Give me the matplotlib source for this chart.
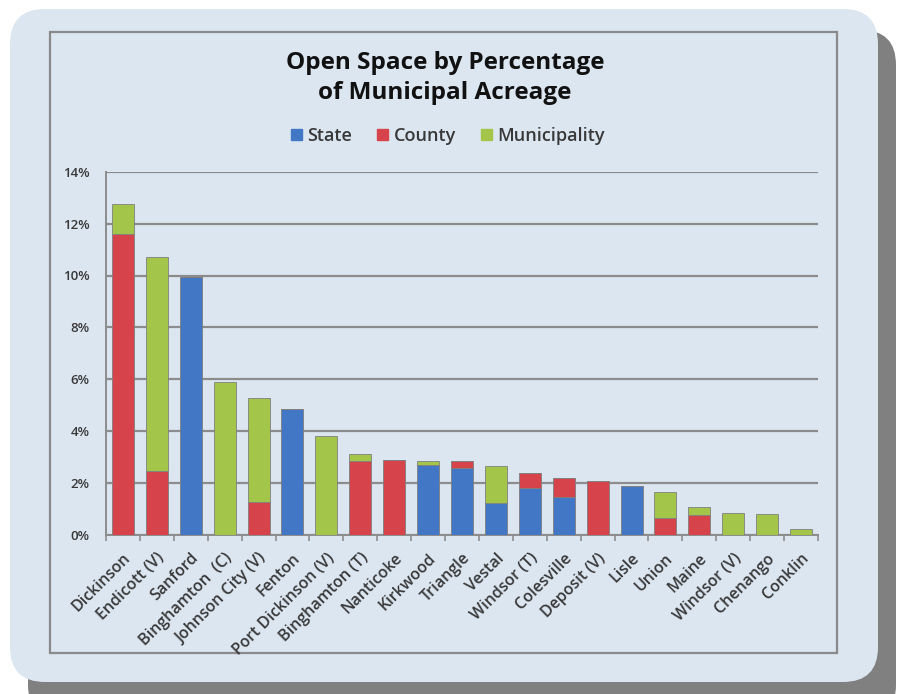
import numpy as np
import matplotlib.pyplot as plt
from matplotlib.patches import FancyBboxPatch, Rectangle, Patch

# values in percent of municipal acreage
towns = ["Dickinson", "Endicott (V)", "Sanford", "Binghamton  (C)", "Johnson City (V)",
         "Fenton", "Port Dickinson (V)", "Binghamton (T)", "Nanticoke", "Kirkwood",
         "Triangle", "Vestal", "Windsor (T)", "Colesville", "Deposit (V)", "Lisle",
         "Union", "Maine", "Windsor (V)", "Chenango", "Conklin"]
state = [0, 0, 9.93, 0, 0, 4.84, 0, 0, 0, 2.70, 2.60, 1.24, 1.83, 1.46, 0, 1.87,
         0, 0, 0, 0, 0]
county = [11.6, 2.48, 0, 0, 1.26, 0, 0, 2.85, 2.88, 0, 0.26, 0, 0.54, 0.72, 2.08, 0,
          0.65, 0.76, 0, 0, 0]
municipality = [1.15, 8.24, 0, 5.91, 4.02, 0, 3.81, 0.27, 0, 0.16, 0, 1.43, 0, 0, 0, 0,
                1.02, 0.32, 0.83, 0.79, 0.23]

plt.rcParams['font.family'] = ['Open Sans', 'DejaVu Sans']
txt = '#383838'
blue, red, green = '#4277c6', '#d7434a', '#a3c54a'
panel = '#dce6f1'

W, H = 901, 694
fig = plt.figure(figsize=(W / 100, H / 100), dpi=100, facecolor='white')

# background: shadow, rounded panel, chart frame (pixel coords)
bg = fig.add_axes([0, 0, 1, 1])
bg.set_xlim(0, W)
bg.set_ylim(H, 0)
bg.axis('off')
bg.add_patch(FancyBboxPatch((28, 30), 868, 690, boxstyle="round,pad=0,rounding_size=35",
                            fc='#808080', ec='none'))
bg.add_patch(FancyBboxPatch((10, 9), 868, 673, boxstyle="round,pad=0,rounding_size=35",
                            fc=panel, ec='none'))
bg.add_patch(Rectangle((50, 32), 787, 621, fc='none', ec='#8a8a8a', lw=1.6))

ax = fig.add_axes([106 / W, 1 - 535 / H, (818 - 106) / W, (535 - 171.7) / H])
ax.set_facecolor('none')

x = np.arange(len(towns))
s = np.array(state)
c = np.array(county)
m = np.array(municipality)
kw = dict(width=0.65, edgecolor='#7f7f7f', linewidth=0.6, zorder=3)
ax.bar(x, s, color=blue, **kw)
ax.bar(x, c, bottom=s, color=red, **kw)
ax.bar(x, m, bottom=s + c, color=green, **kw)

ax.set_xlim(-0.5, len(towns) - 0.5)
ax.set_ylim(0, 14)
ax.set_yticks(np.arange(0, 15, 2))
ax.set_yticklabels([f"{v}%" for v in range(0, 15, 2)], color=txt, fontsize=9.5,
                   fontweight='semibold')
ax.yaxis.grid(True, color='#8c8c8c', lw=1.6, zorder=0)
ax.set_axisbelow(True)
for sp in ['top', 'right']:
    ax.spines[sp].set_visible(False)
for sp in ['left', 'bottom']:
    ax.spines[sp].set_color('#8c8c8c')
    ax.spines[sp].set_linewidth(1.4)
ax.tick_params(axis='y', length=0, pad=12)
ax.set_xticks(x)
ax.set_xticklabels(towns, rotation=45, ha='right', rotation_mode='anchor',
                   color=txt, fontsize=11.5, fontweight='semibold')
ax.tick_params(axis='x', length=0, pad=11)
ax.set_xticks(np.arange(-0.5, len(towns)), minor=True)
ax.tick_params(axis='x', which='minor', length=4, color='#8c8c8c', width=1.2)

fig.text(445 / W, 1 - 78 / H, "Open Space by Percentage\nof Municipal Acreage",
         ha='center', va='center', fontsize=17.5, fontweight='bold', color='#111111',
         linespacing=1.35)

handles = [Patch(color=blue, label='State'), Patch(color=red, label='County'),
           Patch(color=green, label='Municipality')]
leg = fig.legend(handles=handles, loc='center', bbox_to_anchor=(448 / W, 1 - 136 / H),
                 ncol=3, frameon=False, handlelength=0.6, handleheight=0.6,
                 handletextpad=0.3, columnspacing=1.4, fontsize=13)
for t in leg.get_texts():
    t.set_color(txt)
    t.set_fontweight('semibold')

fig.savefig('out.png', dpi=100, facecolor='white')
